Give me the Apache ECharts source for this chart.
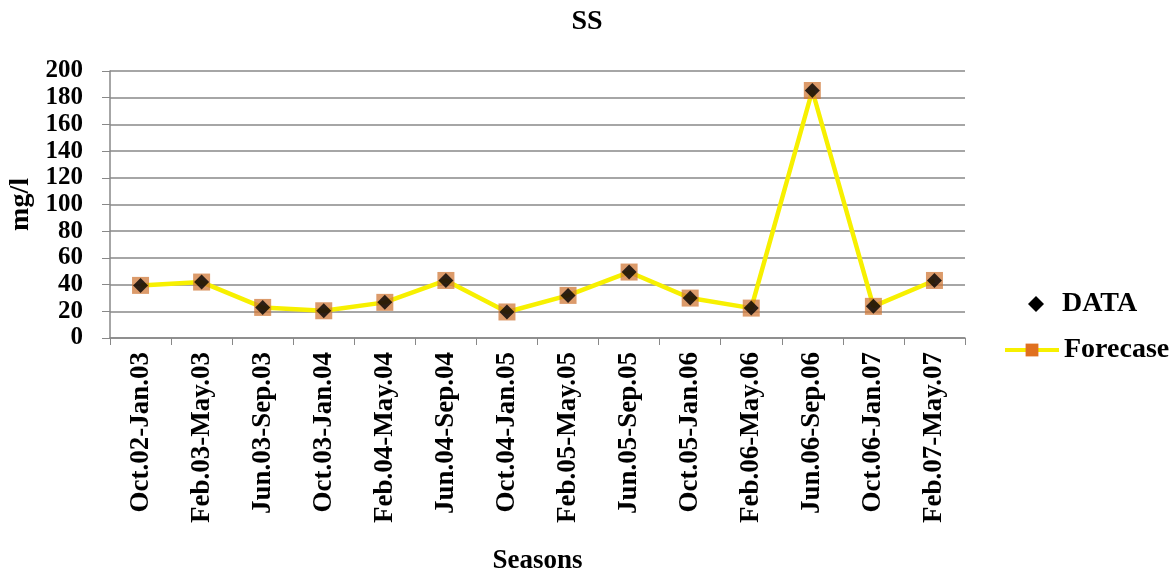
<!DOCTYPE html>
<html>
<head>
<meta charset="utf-8">
<script src="https://cdn.jsdelivr.net/npm/echarts@6/dist/echarts.min.js"></script>
<style>
html,body{margin:0;padding:0;background:#fff;}
#chart{width:1174px;height:574px;}
</style>
</head>
<body>
<div id="chart"></div>
<script>
const categories = ['Oct.02-Jan.03','Feb.03-May.03','Jun.03-Sep.03','Oct.03-Jan.04','Feb.04-May.04','Jun.04-Sep.04','Oct.04-Jan.05','Feb.05-May.05','Jun.05-Sep.05','Oct.05-Jan.06','Feb.06-May.06','Jun.06-Sep.06','Oct.06-Jan.07','Feb.07-May.07'];
const dataValues = [39.4, 41.9, 22.9, 20.4, 26.7, 43.1, 19.5, 31.9, 49.4, 29.9, 22.4, 185.4, 23.7, 43.1];
const forecastValues = [39.4, 41.9, 22.9, 20.4, 26.7, 43.1, 19.5, 31.9, 49.4, 29.9, 22.4, 185.4, 23.7, 43.1];
const yTicks = [0, 20, 40, 60, 80, 100, 120, 140, 160, 180, 200];

const FONT = '"Liberation Serif", "Times New Roman", serif';
const chart = echarts.init(document.getElementById('chart'));
chart.setOption({
  backgroundColor: '#fff',
  animation: false,
  title: {
    text: 'SS', left: 'center', top: 3,
    textStyle: { fontFamily: FONT, fontWeight: 'bold', fontSize: 28, color: '#000' }
  },
  legend: [
    {
      orient: 'vertical', left: 1023, top: 285, itemWidth: 16, itemHeight: 16,
      data: [{ name: 'DATA', icon: 'diamond', itemStyle: { color: '#000', opacity: 1 } }],
      textStyle: { fontFamily: FONT, fontWeight: 'bold', fontSize: 28, color: '#000', padding: [0, 0, 0, 13] }
    },
    {
      orient: 'vertical', left: 998, top: 331, itemWidth: 54, itemHeight: 16,
      data: [{ name: 'Forecase', lineStyle: { width: 4, color: '#f7f000' }, itemStyle: { color: '#e07020', opacity: 1 } }],
      textStyle: { fontFamily: FONT, fontWeight: 'bold', fontSize: 28, color: '#000' }
    }
  ],
  grid: { left: 110, right: 209, top: 71, bottom: 236, containLabel: false, outerBoundsMode: 'none' },
  xAxis: {
    type: 'category', data: categories, boundaryGap: true,
    name: 'Seasons', nameLocation: 'middle', nameGap: 210, nameMoveOverlap: false,
    nameTextStyle: { fontFamily: FONT, fontWeight: 'bold', fontSize: 27, color: '#000' },
    axisLine: { lineStyle: { color: '#888', width: 1.5 } },
    axisTick: { show: true, length: 7, alignWithLabel: false, lineStyle: { color: '#888' } },
    axisLabel: { rotate: 90, margin: 14, fontFamily: FONT, fontWeight: 'bold', fontSize: 27, color: '#000', interval: 0 }
  },
  yAxis: {
    type: 'value', min: yTicks[0], max: yTicks[yTicks.length - 1], interval: 20,
    name: 'mg/l', nameLocation: 'middle', nameGap: 75, nameMoveOverlap: false,
    nameTextStyle: { fontFamily: FONT, fontWeight: 'bold', fontSize: 28, color: '#000' },
    axisLine: { show: true, lineStyle: { color: '#888', width: 1.5 } },
    axisTick: { show: true, length: 8, lineStyle: { color: '#888' } },
    splitLine: { show: true, lineStyle: { color: '#888', width: 1.5 } },
    axisLabel: { margin: 27, fontFamily: FONT, fontWeight: 'bold', fontSize: 25, color: '#000' }
  },
  series: [
    {
      name: 'Forecase', type: 'line', data: forecastValues,
      symbol: 'rect', symbolSize: 17,
      lineStyle: { color: '#f7f000', width: 4.5 },
      itemStyle: { color: '#d07a3a', opacity: 0.75 },
      z: 2
    },
    {
      name: 'DATA', type: 'scatter', data: dataValues,
      symbol: 'diamond', symbolSize: 15,
      itemStyle: { color: '#000' },
      z: 3
    }
  ]
});
</script>
</body>
</html>
